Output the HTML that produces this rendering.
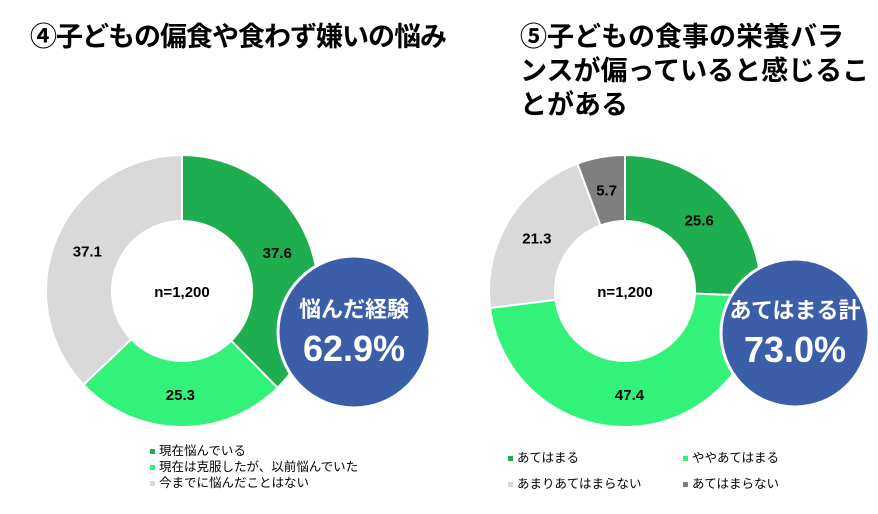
<!DOCTYPE html>
<html><head><meta charset="utf-8"><style>
body{margin:0;background:#fff;width:878px;height:514px;overflow:hidden;font-family:"Liberation Sans","Noto Sans CJK JP",sans-serif}
.t{position:absolute;font-weight:bold;font-size:27px;color:#000;line-height:34px;letter-spacing:-1px;white-space:nowrap}
.lg{position:absolute;font-size:12.5px;color:#000;line-height:16px}
.lg i{display:inline-block;width:5px;height:5px;margin-right:4px;vertical-align:middle}
</style></head><body>
<div class="t" style="left:30px;top:20px">④子どもの偏食や食わず嫌いの悩み</div>
<div class="t" style="left:520px;top:20px;letter-spacing:0">⑤子どもの食事の栄養バラ<br>ンスが偏っていると感じるこ<br>とがある</div>
<svg id="svg" width="878" height="514" style="position:absolute;left:0;top:0"></svg>
<div class="lg" style="left:150px;top:443px">
<div><i style="background:#1fae4f"></i>現在悩んでいる</div>
<div><i style="background:#33f27a"></i>現在は克服したが、以前悩んでいた</div>
<div><i style="background:#d9d9d9"></i>今までに悩んだことはない</div>
</div>
<div class="lg" style="left:423px;top:450px;width:420px">
<div style="position:absolute;left:85px;top:0"><i style="background:#1fae4f"></i>あてはまる</div>
<div style="position:absolute;left:260px;top:0"><i style="background:#33f27a"></i>ややあてはまる</div>
<div style="position:absolute;left:85px;top:26px"><i style="background:#d9d9d9"></i>あまりあてはまらない</div>
<div style="position:absolute;left:260px;top:26px"><i style="background:#7f7f7f"></i>あてはまらない</div>
</div>
<script>
const leftValues=[37.6,25.3,37.1];
const leftColors=["#1fae4f","#33f27a","#d9d9d9"];
const rightValues=[25.6,47.4,21.3,5.7];
const rightColors=["#1fae4f","#33f27a","#d9d9d9","#7f7f7f"];
const leftTotal="62.9%";
const rightTotal="73.0%";
const NS="http://www.w3.org/2000/svg";
const svg=document.getElementById('svg');
function mk(t,a){const e=document.createElementNS(NS,t);for(const k in a)e.setAttribute(k,a[k]);svg.appendChild(e);return e;}
function pt(cx,cy,r,a){return [cx+r*Math.sin(a),cy-r*Math.cos(a)];}
function donut(cx,cy,R,r,vals,cols){
  const tot=vals.reduce((a,b)=>a+b,0);let a0=0;
  vals.forEach((v,i)=>{
    const a1=a0+v/tot*2*Math.PI,lg=(a1-a0)>Math.PI?1:0;
    const p1=pt(cx,cy,R,a0),p2=pt(cx,cy,R,a1),p3=pt(cx,cy,r,a1),p4=pt(cx,cy,r,a0);
    const p=mk('path',{d:`M${p1}A${R},${R} 0 ${lg} 1 ${p2}L${p3}A${r},${r} 0 ${lg} 0 ${p4}Z`,fill:cols[i],stroke:'#fff','stroke-width':2});
    
    
    const m=(a0+a1)/2,lp=pt(cx,cy,(R+r)/2,m);
    const t=mk('text',{x:lp[0],y:lp[1]+6,'text-anchor':'middle','font-size':15,'font-weight':'bold','font-family':'Liberation Sans'});
    t.textContent=v.toFixed(1);
    
    
    a0=a1;
  });
  const n=mk('text',{x:cx,y:cy+6,'text-anchor':'middle','font-size':15,'font-weight':'bold','font-family':'Liberation Sans'});
  n.textContent='n=1,200';
  
  
}
function badge(cx,cy,r,l1,l2){
  const c=mk('circle',{cx:cx,cy:cy,r:r,fill:'#3c5ea8',stroke:'#fff','stroke-width':3});
  
  
  const a=mk('text',{x:cx,y:cy-15,'text-anchor':'middle','font-size':22,'font-weight':'bold',fill:'#fff','font-family':'Liberation Sans, Noto Sans CJK JP, sans-serif'});
  a.textContent=l1;
  
  
  const b=mk('text',{x:cx,y:cy+29,'text-anchor':'middle','font-size':36,'font-weight':'bold',fill:'#fff','font-family':'Liberation Sans'});
  b.textContent=l2;
  
  
}
donut(182,291,136,70,leftValues,leftColors);
donut(625,291,136,70,rightValues,rightColors);
badge(354,332,76,'悩んだ経験',leftTotal);
badge(795,333,74,'あてはまる計',rightTotal);
</script>
</body></html>
